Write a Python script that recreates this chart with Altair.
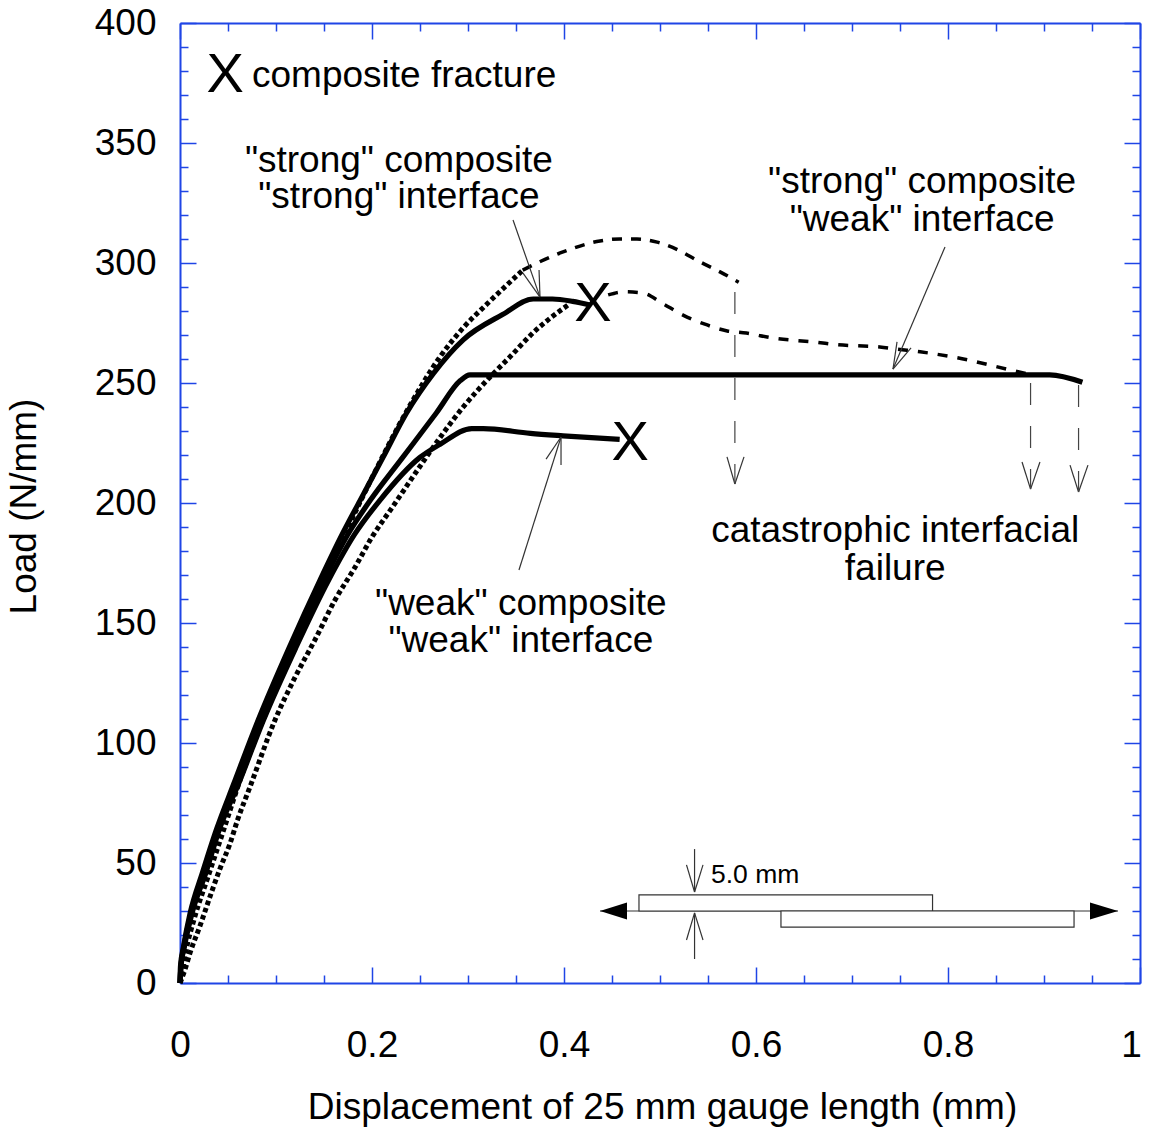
import altair as alt
import pandas as pd

BLUE = "#1f45e6"
FONT = "Liberation Sans"

# curves (x = displacement mm, y = load N/mm)
ss_x = [0, .0005, .0036, .0105, .0234, .038, .056, .0815, .114, .146, .169, .1875, .2115, .236, .264, .295, .336, .368, .388, .409, .427]
ss_y = [0, 7, 15, 29, 46, 64, 83, 109.6, 140, 168, 187, 201, 219, 237.5, 254, 268, 278.5, 285, 285, 284, 282.5]
sw_x = [0, .001, .004, .0115, .025, .039, .058, .084, .117, .150, .175, .198, .232, .267, .292, .302, .906, .94]
sw_y = [0, 7, 15, 29, 46, 64, 83, 109.6, 140, 168, 187, 201, 219, 237.5, 251, 253.4, 253.4, 250.3]
ww_x = [0, .001, .0045, .0125, .027, .041, .061, .087, .121, .155, .182, .208, .25, .271, .304, .316, .365, .399, .458]
ww_y = [0, 7, 15, 29, 46, 64, 83, 109.6, 140, 168, 187, 201, 219, 224.5, 231, 231, 229, 228, 226.5]

a_dot_x = [0, .002, .006, .015, .029, .044, .063, .0938, .1115, .150, .192, .24, .271, .295, .32, .357]
a_dot_y = [0, 4, 13, 27, 44, 62, 85, 116.7, 133, 168, 204, 241, 261, 273, 283, 297]
a_dash_x = [.357, .372, .399, .4375, .458, .476, .497, .519, .54, .5625, .582]
a_dash_y = [297, 300, 304.6, 309.2, 310, 310, 308.7, 305.4, 300.8, 296.3, 292]

b_dot_x = [0, .005, .0104, .021, .033, .042, .052, .06, .0729, .099, .12, .1406, .1615, .182, .2, .2208, .253, .274, .295, .323, .344, .368, .406]
b_dot_y = [0, 5.4, 12.5, 24, 38, 48, 58, 68, 81.7, 109.6, 127.5, 143, 159.6, 173, 185.8, 198, 217, 229, 240, 252.5, 261, 271, 283]
b_dash_x = [.446, .4625, .482, .502, .524, .546, .57, .59, .618, .663, .684, .729, .75, .771, .816, .861, .885]
b_dash_y = [286.7, 288, 287.5, 283.3, 278.3, 274.6, 271.7, 270.8, 268.7, 267, 266, 265, 264, 263, 260, 255.8, 253.6]

# thin leader and arrow strokes: x, y, x2, y2
thin_x = [.3469, .3573, .374, .3531, .3813, .3969, .7969, .7469, .7615,
          .5698, .5875, .8771, .8958, .9271, .9458,
          .4375, .536, .5276, .5448, .536, .5276, .5448]
thin_y = [317.9, 295.8, 297.1, 172.1, 218.3, 215.8, 306.7, 267.1, 264.6,
          219.2, 219.2, 217.1, 217.1, 215.8, 215.8,
          30, 55.8, 49.2, 49.2, 10, 17.9, 17.9]
thin_x2 = [.375, .375, .375, .3969, .3969, .3969, .7427, .7427, .7427,
           .578, .578, .886, .886, .936, .936,
           .9771, .536, .536, .536, .536, .536, .536]
thin_y2 = [285.8, 285.8, 285.8, 227.5, 227.5, 227.5, 255.8, 255.8, 255.8,
           207.9, 207.9, 205.8, 205.8, 204.6, 204.6,
           30, 37.9, 37.9, 37.9, 29.2, 29.2, 29.2]

drop_x = [.578, .886, .936]
drop_top = [287.9, 250, 249.2]
drop_tip = [207.9, 205.8, 204.6]

rect_x = [.4781, .626]
rect_x2 = [.7839, .9313]
rect_y = [36.7, 30]
rect_y2 = [30, 23.3]

head_id = ["l", "l", "r", "r"]
head_x = [.4375, .4656, .9479, .9771]
head_hi = [30, 33.5, 33.5, 30]
head_lo = [30, 26.5, 26.5, 30]

label_x = [.228, .228, .773, .773, .745, .745, .355, .355, .075]
label_y = [338, 322.8, 329, 313.3, 183.6, 168.1, 153.4, 137.9, 373.2]
label_text = ['"strong" composite', '"strong" interface', '"strong" composite', '"weak" interface',
              'catastrophic interfacial', 'failure', '"weak" composite', '"weak" interface', 'composite fracture']
label_align = ["center"] * 8 + ["left"]

x_marks_x = [.047, .430, .469]
x_marks_y = [378.2, 283, 225]

x_major = [0, .2, .4, .6, .8, 1]
x_minor = [.05, .1, .15, .25, .3, .35, .45, .5, .55, .65, .7, .75, .85, .9, .95]
y_major = [0, 50, 100, 150, 200, 250, 300, 350, 400]
y_minor = [v for v in range(10, 400, 10) if v % 50]

W = H = 960
xs = alt.Scale(domain=[0, 1], nice=False, zero=False)
ys = alt.Scale(domain=[0, 400], nice=False, zero=False)
X = lambda f="x": alt.X(f, type="quantitative", scale=xs, axis=None)
Y = lambda f="y": alt.Y(f, type="quantitative", scale=ys, axis=None)
anchor = pd.DataFrame({"x": [0], "y": [0]})


def axes(xa, ya):
    return alt.Chart(anchor).mark_point(opacity=0).encode(
        x=alt.X("x:Q", scale=xs, axis=xa), y=alt.Y("y:Q", scale=ys, axis=ya))


def inner(orient, values, size, offset):
    return alt.Axis(orient=orient, values=values, tickSize=size, offset=offset, labels=False, title=None,
                    domain=False, grid=False, ticks=True, tickColor=BLUE, tickWidth=1.5)


lab = dict(grid=False, ticks=False, domain=True, domainColor=BLUE, domainWidth=2, labelFont=FONT, labelFontSize=37,
           labelColor="black", titleFont=FONT, titleFontSize=37, titleFontWeight="normal", titleColor="black",
           labelOverlap=False, labelFlush=False, labelBound=False, format=".1~f")
plain = dict(grid=False, ticks=False, labels=False, title=None, domain=True, domainColor=BLUE, domainWidth=2)

layers = [
    axes(alt.Axis(orient="bottom", values=x_major, labelPadding=44, titlePadding=26, titleX=482,
                  labelOffset=alt.expr("datum.value == 1 ? -9 : 0"),
                  title="Displacement of 25 mm gauge length (mm)", **lab),
         alt.Axis(orient="left", values=y_major, labelPadding=24, titlePadding=51, titleY=483,
                  title="Load (N/mm)", **lab)),
    axes(alt.Axis(orient="top", **plain), alt.Axis(orient="right", **plain)),
    # ticks point into the plot: each axis sits at the far edge, offset across the plot area
    axes(inner("top", x_major, 16, -H), inner("right", y_major, 16, -W)),
    axes(inner("top", x_minor, 8, -H), inner("right", y_minor, 8, -W)),
    axes(inner("bottom", x_major, 16, -H), inner("left", y_major, 16, -W)),
    axes(inner("bottom", x_minor, 8, -H), inner("left", y_minor, 8, -W)),
]


def curve(xv, yv, width, dash=None):
    kw = dict(color="black", strokeWidth=width, strokeJoin="round", interpolate="monotone")
    if dash:
        kw["strokeDash"] = dash
    return alt.Chart(pd.DataFrame({"x": xv, "y": yv, "o": range(len(xv))})).mark_line(**kw).encode(
        x=X(), y=Y(), order="o:Q")


layers += [
    curve(a_dot_x, a_dot_y, 5, [4.5, 3]),
    curve(b_dot_x, b_dot_y, 5, [4.5, 3]),
    curve(a_dash_x, a_dash_y, 3.5, [10, 9]),
    curve(b_dash_x, b_dash_y, 3.5, [10, 10]),
    curve(ss_x, ss_y, 5.2),
    curve(sw_x, sw_y, 5.2),
    curve(ww_x, ww_y, 5.2),
]

thin = pd.DataFrame({"x": thin_x, "y": thin_y, "x2": thin_x2, "y2": thin_y2})
layers.append(alt.Chart(thin).mark_rule(color="#333333", strokeWidth=1.2).encode(
    x=X(), y=Y(), x2="x2:Q", y2="y2:Q"))

drops = pd.DataFrame({"x": drop_x, "y": drop_top, "y2": drop_tip})
layers.append(alt.Chart(drops).mark_rule(color="#444444", strokeWidth=1.2, strokeDash=[22, 21]).encode(
    x=X(), y=Y(), y2="y2:Q"))

rects = pd.DataFrame({"x": rect_x, "x2": rect_x2, "y": rect_y, "y2": rect_y2})
layers.append(alt.Chart(rects).mark_rect(fill="white", stroke="#333333", strokeWidth=1.2).encode(
    x=X(), x2="x2:Q", y=Y(), y2="y2:Q"))

heads = pd.DataFrame({"id": head_id, "x": head_x, "y": head_hi, "y2": head_lo})
layers.append(alt.Chart(heads).mark_area(color="black").encode(
    x=X(), y=Y(), y2="y2:Q", detail="id:N"))

labels = pd.DataFrame({"x": label_x, "y": label_y, "t": label_text, "a": label_align})
for al in ["center", "left"]:
    layers.append(alt.Chart(labels[labels.a == al]).mark_text(
        font=FONT, fontSize=37, align=al, baseline="alphabetic", color="black").encode(x=X(), y=Y(), text="t:N"))

layers.append(alt.Chart(pd.DataFrame({"x": x_marks_x, "y": x_marks_y, "t": ["X"] * 3})).mark_text(
    font=FONT, fontSize=56, align="center", baseline="middle", color="black").encode(x=X(), y=Y(), text="t:N"))

layers.append(alt.Chart(pd.DataFrame({"x": [.5531], "y": [41.7], "t": ["5.0 mm"]})).mark_text(
    font=FONT, fontSize=26.5, align="left", baseline="alphabetic", color="black").encode(x=X(), y=Y(), text="t:N"))

chart = alt.layer(*layers).resolve_axis(x="independent", y="independent").properties(
    width=W, height=H,
    autosize=alt.AutoSizeParams(type="none"),
    padding={"left": 172, "top": 15, "right": 2, "bottom": 144},
    background="white",
).configure_view(stroke=None)

chart.save("out.html", embed_options={"renderer": "svg", "actions": False})
